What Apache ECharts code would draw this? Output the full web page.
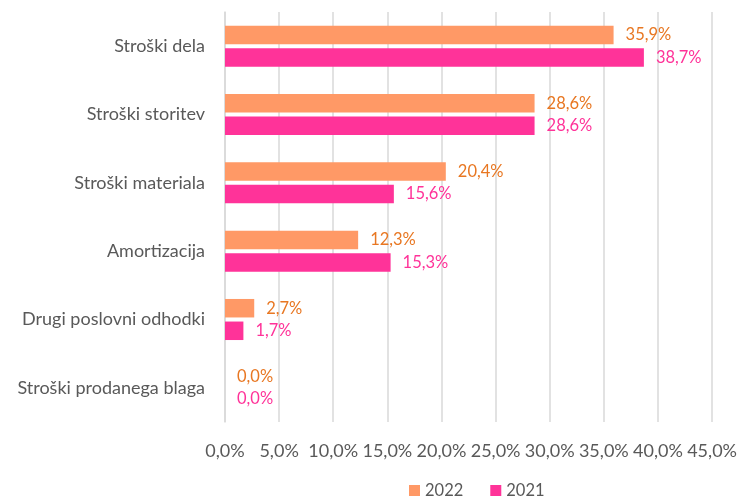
<!DOCTYPE html>
<html><head><meta charset="utf-8">
<script src="https://cdn.jsdelivr.net/npm/echarts@6/dist/echarts.min.js"></script>
<style>html,body{margin:0;padding:0;background:#fff}#c{width:740px;height:499px}</style>
</head><body><div id="c"></div>
<script>
const categories = ["Stroški dela","Stroški storitev","Stroški materiala","Amortizacija","Drugi poslovni odhodki","Stroški prodanega blaga"];
const values2022 = [35.9, 28.6, 20.4, 12.3, 2.7, 0.0];
const values2021 = [38.7, 28.6, 15.6, 15.3, 1.7, 0.0];
const seriesNames = ["2022","2021"];
const fmt = v => v.toFixed(1).replace('.', ',') + '%';
const font = 'Lato, "Open Sans", sans-serif';
const chart = echarts.init(document.getElementById('c'), null, {renderer:'canvas'});
chart.setOption({
  animation:false,
  textStyle:{fontFamily:font},
  grid:{left:225,right:26,top:12,bottom:77,containLabel:false},
  legend:{top:482,left:409,padding:0,itemWidth:11,itemHeight:11,itemGap:27,icon:'rect',
    textStyle:{fontSize:16.5,color:'#595959',fontFamily:font},data:seriesNames},
  xAxis:{type:'value',min:0,max:45,interval:5,
    axisLabel:{formatter:v=>fmt(v),fontSize:18,color:'#595959',margin:20,fontFamily:font},
    splitLine:{lineStyle:{color:'#d9d9d9',width:1.5}},axisLine:{show:false},axisTick:{show:false}},
  yAxis:{type:'category',data:categories,inverse:true,
    axisLabel:{fontSize:18,color:'#595959',margin:20,fontFamily:font},
    axisLine:{lineStyle:{color:'#d9d9d9',width:1.5}},axisTick:{show:false}},
  series:[
    {name:seriesNames[0],type:'bar',data:values2022,barWidth:18.5,barGap:'22%',
     itemStyle:{color:'#FF9966'},
     label:{show:true,position:'right',distance:12,formatter:p=>fmt(p.value),color:'#E87722',fontSize:16.5,fontFamily:font}},
    {name:seriesNames[1],type:'bar',data:values2021,barWidth:18.5,barGap:'22%',
     itemStyle:{color:'#FF3399'},
     label:{show:true,position:'right',distance:12,formatter:p=>fmt(p.value),color:'#FF3399',fontSize:16.5,fontFamily:font}}
  ]
});
</script></body></html>
